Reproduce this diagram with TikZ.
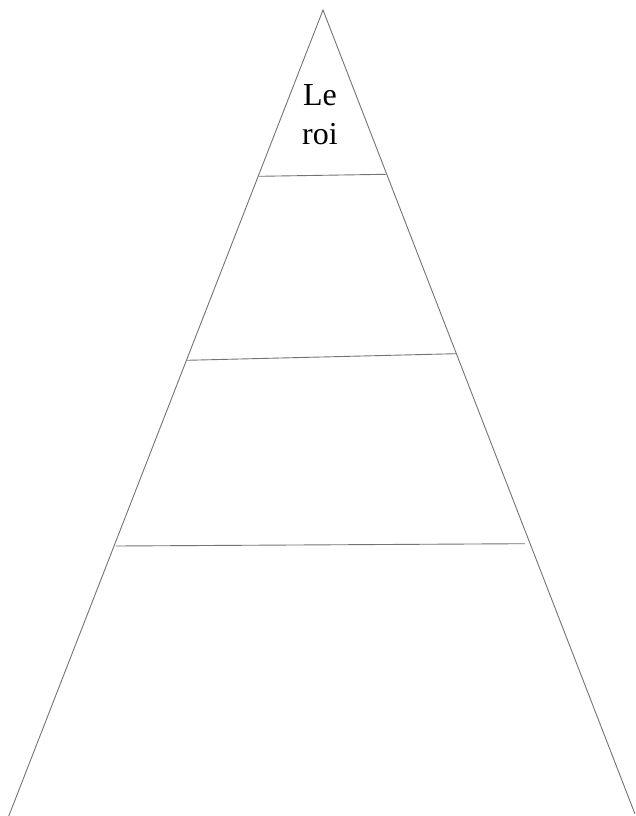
\documentclass[tikz,border=0pt]{standalone}
\usepackage{fontspec}
\setmainfont{Liberation Serif}
\begin{document}
\begin{tikzpicture}[x=1pt,y=-1pt,
  edge/.style={draw=black!55,line width=0.9pt},
  label/.style={anchor=base,inner sep=0pt,font=\fontsize{32}{38}\selectfont}]
\useasboundingbox (0,0) rectangle (635,816);
\begin{scope}
\clip (0,0) rectangle (635,816);
\coordinate (apex) at (323,10);
\coordinate (bl) at (8,818);
\coordinate (br) at (635,814);
\draw[edge] (bl) -- (apex) -- (br);
\coordinate (l1a) at (259,176.3);
\coordinate (l1b) at (385.7,174.3);
\coordinate (l2a) at (186.7,360.3);
\coordinate (l2b) at (456,353.7);
\coordinate (l3a) at (115.7,546);
\coordinate (l3b) at (525,543.7);
\draw[edge] (l1a) -- (l1b);
\draw[edge] (l2a) -- (l2b);
\draw[edge] (l3a) -- (l3b);
\end{scope}
\node[label] (le) at (320,105.7) {Le};
\node[label] (roi) at (320,144) {roi};
\end{tikzpicture}
\end{document}
